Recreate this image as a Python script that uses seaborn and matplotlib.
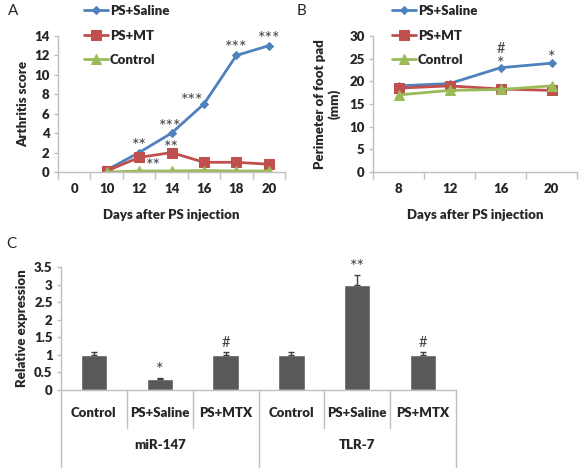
import pandas as pd
import seaborn as sns
import matplotlib.pyplot as plt
import numpy as np

# panel A: arthritis score
days_a = ["0", "10", "12", "14", "16", "18", "20"]
saline_a = [np.nan, 0.2, 2.0, 4.0, 7.0, 12.0, 13.0]
mt_a = [np.nan, 0.1, 1.5, 2.0, 1.0, 1.0, 0.8]
control_a = [np.nan, 0.0, 0.1, 0.1, 0.15, 0.1, 0.1]

# panel B: perimeter of foot pad (mm)
days_b = ["8", "12", "16", "20"]
saline_b = [19.0, 19.5, 23.0, 24.0]
mt_b = [18.5, 19.0, 18.3, 18.0]
control_b = [17.0, 18.0, 18.2, 19.0]

# panel C: relative expression
genes = ["miR-147", "TLR-7"]
groups_c = ["Control", "PS+Saline", "PS+MTX"]
expr = [1.0, 0.3, 1.0, 1.0, 3.0, 1.0]
expr_err = [0.08, 0.03, 0.08, 0.08, 0.28, 0.08]
marks_c = ["", "*", "#", "", "**", "#"]

series_names = ["PS+Saline", "PS+MT", "Control"]
colors = {"PS+Saline": "#4F81BD", "PS+MT": "#C0504D", "Control": "#9BBB59"}
markers = {"PS+Saline": "D", "PS+MT": "s", "Control": "^"}
msizes = {"PS+Saline": 4.5, "PS+MT": 6.5, "Control": 6.5}

sns.set_theme(style="white")
plt.rcParams['font.family'] = ['Lato', 'DejaVu Sans']
plt.rcParams['font.weight'] = 'heavy'
plt.rcParams['axes.labelweight'] = 'heavy'
fs = 8.5
axis_col = "#BFBFBF"
txt_col = "#262626"
star_col = "#404040"

W, H = 586, 471
fig = plt.figure(figsize=(W / 100, H / 100), dpi=100)


def px_axes(x0, y0, x1, y1):
    return fig.add_axes([x0 / W, 1 - y1 / H, (x1 - x0) / W, (y1 - y0) / H])


def style_axes(ax):
    sns.despine(ax=ax)
    for s in ["left", "bottom"]:
        ax.spines[s].set_color(axis_col)
        ax.spines[s].set_linewidth(1.0)
    ax.tick_params(axis="y", which="major", length=3, width=1, color=axis_col,
                   labelsize=fs + 1, labelcolor=txt_col, pad=3, left=True)
    ax.tick_params(axis="x", which="major", length=0, labelsize=fs + 1,
                   labelcolor=txt_col, pad=8)
    ax.tick_params(axis="x", which="minor", length=5, width=1, color=axis_col,
                   bottom=True)


def line_panel(ax, cats, data):
    pos = np.arange(len(cats))
    for name in series_names:
        df = pd.DataFrame({"pos": pos, "val": data[name]}).dropna()
        sns.lineplot(data=df, x="pos", y="val", ax=ax, color=colors[name],
                     marker=markers[name], markersize=msizes[name],
                     markeredgecolor=colors[name], linewidth=2, label=name,
                     legend=False)
    ax.set_xlim(-0.5, len(cats) - 0.5)
    ax.set_xticks(pos)
    ax.set_xticklabels(cats)
    ax.set_xticks(np.arange(len(cats) + 1) - 0.5, minor=True)
    style_axes(ax)
    ax.set_xlabel("Days after PS injection", fontsize=fs + 1, color=txt_col,
                  labelpad=10)


def stars(ax, items):
    for x, y, t in items:
        ax.text(x, y, t, ha="center", va="center", fontsize=13, color=star_col,
                fontweight="normal", clip_on=False)


# ---- A ----
axA = px_axes(58, 36, 285, 172)
line_panel(axA, days_a, {"PS+Saline": saline_a, "PS+MT": mt_a, "Control": control_a})
axA.set_ylim(0, 14)
axA.set_yticks(range(0, 15, 2))
axA.set_ylabel("Arthritis score", fontsize=fs + 1, color=txt_col, labelpad=4)
stars(axA, [(2, 2.7, "**"), (2.45, 0.6, "**"), (2.95, 4.6, "***"), (3.0, 2.5, "**"),
            (3.65, 7.3, "***"), (5.0, 12.8, "***"), (6.0, 13.7, "***")])
hA = axA.get_lines()
axA.legend(handles=hA, labels=series_names, loc="upper left",
           bbox_to_anchor=(84 / W, 1 - 5 / H), bbox_transform=fig.transFigure,
           frameon=False, fontsize=fs + 1, handlelength=1.8, handletextpad=0.15,
           labelspacing=0.95, borderpad=0, borderaxespad=0)

# ---- B ----
axB = px_axes(373, 36, 577, 172)
line_panel(axB, days_b, {"PS+Saline": saline_b, "PS+MT": mt_b, "Control": control_b})
axB.set_ylim(0, 30)
axB.set_yticks(range(0, 31, 5))
axB.set_ylabel("Perimeter of foot pad\n(mm)", fontsize=fs + 1, color=txt_col,
               labelpad=6, linespacing=1.2)
stars_b = [(2, 27.2, "#"), (2, 23.8, "*"), (3, 25.2, "*")]
for x, y, t in stars_b:
    axB.text(x, y, t, ha="center", va="center",
             fontsize=13 if t == "*" else fs + 2, color=star_col,
             fontweight="normal", clip_on=False)
hB = axB.get_lines()
axB.legend(handles=hB, labels=series_names, loc="upper left",
           bbox_to_anchor=(392 / W, 1 - 5 / H), bbox_transform=fig.transFigure,
           frameon=False, fontsize=fs + 1, handlelength=1.8, handletextpad=0.15,
           labelspacing=0.95, borderpad=0, borderaxespad=0)

# ---- C ----
axC = px_axes(61, 267, 456, 390)
keys = [g + " " + c for g in genes for c in groups_c]
dfc = pd.DataFrame({"key": keys, "val": expr})
sns.barplot(data=dfc, x="key", y="val", ax=axC, color="#595959", width=0.4,
            saturation=1, errorbar=None)
xs = np.arange(len(keys))
axC.errorbar(xs, expr, yerr=[np.zeros(len(expr)), expr_err], fmt="none",
             ecolor="#404040", elinewidth=1, capsize=2.5, capthick=1)
axC.set_xlim(-0.5, len(keys) - 0.5)
axC.set_ylim(0, 3.5)
axC.set_yticks(np.arange(0, 3.51, 0.5))
axC.set_yticklabels(["{:g}".format(v) for v in np.arange(0, 3.51, 0.5)])
axC.set_xticks(xs)
axC.set_xticklabels([c for g in genes for c in groups_c])
style_axes(axC)
axC.tick_params(axis="x", which="major", pad=12)
axC.set_xlabel("")
axC.set_ylabel("Relative expression", fontsize=fs + 1, color=txt_col, labelpad=4)
for x, v, e, t in zip(xs, expr, expr_err, marks_c):
    if t:
        axC.text(x, v + e + (0.0 if "*" in t else 0.07), t, ha="center",
                 va="bottom", fontsize=13 if "*" in t else fs + 2,
                 color=star_col, fontweight="normal")
tr = axC.get_xaxis_transform()
for b in np.arange(len(keys) + 1) - 0.5:
    long = (b + 0.5) % len(groups_c) == 0
    axC.plot([b, b], [0, -0.626 if long else -0.31], transform=tr, color=axis_col,
             lw=1, clip_on=False)
for i, g in enumerate(genes):
    axC.text(i * len(groups_c) + 1, -0.45, g, transform=tr, ha="center",
             va="center", fontsize=fs + 1, color=txt_col)

# panel letters
fig.text(8 / W, 1 - 11 / H, "A", fontsize=11, fontweight="normal", va="center", color=txt_col)
fig.text(297 / W, 1 - 11 / H, "B", fontsize=11, fontweight="normal", va="center", color=txt_col)
fig.text(6 / W, 1 - 244 / H, "C", fontsize=11, fontweight="normal", va="center", color=txt_col)

plt.savefig("out.png", dpi=100)
